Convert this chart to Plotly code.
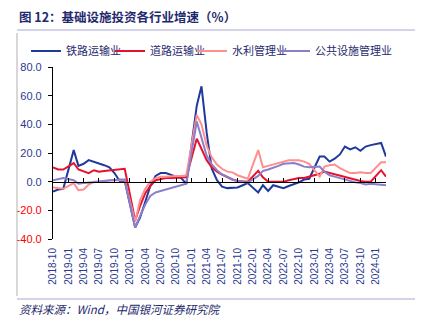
import plotly.graph_objects as go

# ---- data ----
months = [
    "2018-10", "2018-11", "2018-12",
    "2019-02", "2019-03", "2019-04", "2019-05", "2019-06", "2019-07", "2019-08", "2019-09", "2019-10", "2019-11", "2019-12",
    "2020-02", "2020-03", "2020-04", "2020-05", "2020-06", "2020-07", "2020-08", "2020-09", "2020-10", "2020-11", "2020-12",
    "2021-02", "2021-03", "2021-04", "2021-05", "2021-06", "2021-07", "2021-08", "2021-09", "2021-10", "2021-11", "2021-12",
    "2022-02", "2022-03", "2022-04", "2022-05", "2022-06", "2022-07", "2022-08", "2022-09", "2022-10", "2022-11", "2022-12",
    "2023-02", "2023-03", "2023-04", "2023-05", "2023-06", "2023-07", "2023-08", "2023-09", "2023-10", "2023-11", "2023-12",
    "2024-02", "2024-03",
]

railway = [
    -7, -5.5, -5,
    22, 11, 12.5, 15, 14, 13, 11.5, 10, 6, 0.5, 0.5,
    -32, -25, -14, -3, 4, 6, 6, 4.5, 3.5, 2.5, -1.5,
    53, 66.5, 34, 9, 1, -3.5, -4.5, -4.5, -4, -2.5, -1,
    -7.5, -2.5, -6.5, -2.5, -3.5, -4.5, -3, -2, -0.5, 1.5, 2,
    17.5, 17.5, 14, 16, 19, 24.5, 22.5, 24, 21.5, 24.5, 25.5,
    27, 17.5,
]

road = [
    10, 8.5, 8.5,
    13, 8.5, 7, 6, 8, 7, 7.5, 8, 8, 8.5, 9,
    -27, -17, -8, -3, 1, 2, 2.5, 2.5, 2.5, 2.5, 3,
    30, 23, 15, 10, 7, 5, 3, 1.5, 0.5, 0, 0,
    7.5, 3, 0, 0, 0, 0, 1, 2, 2.5, 2.5, 3.5,
    5.5, 7, 6, 5, 4, 3, 2, 1, 0.5, 0, 0,
    8, 3.5,
]

water = [
    -4, -4.5, -5,
    -1, -6, -5.5, -2, 0, 0.5, 0.5, 1, 1, 1, 1,
    -28, -13, -5, 0, 2.5, 3.5, 3.5, 4, 4, 4, 4.5,
    46.5, 40, 25, 17, 12, 9, 7, 6.5, 4.5, 3, 2,
    22, 10, 11, 12, 13, 14, 15, 15, 15, 14, 12.5,
    3.5, 10.5, 11.5, 12, 9.5, 7.5, 6, 6, 6.5, 6, 6,
    13.5, 13.5,
]

public = [
    1, 1.5, 2.5,
    1, -1.5, -1, -0.5, 0, 0, 0.5, 1, 1, 1.5, 1.5,
    -32, -24, -16, -10, -7.5, -6.5, -5.5, -4.5, -3.5, -2.5, -1.5,
    42, 30, 18, 12, 8, 5, 3, 1.5, 0.5, 0, -0.5,
    4, 7.5, 8.5, 9.5, 11, 12.5, 13, 13, 12, 10.5, 10,
    10.5, 7, 4.5, 3.5, 2.5, 1, 0, -0.5, -1, -2, -1.5,
    -2, -2.5,
]

series_names = ["铁路运输业", "道路运输业", "水利管理业", "公共设施管理业"]
series_colors = ["#1F3A9C", "#E8112D", "#FF8F8F", "#8C7EC8"]

x_tick_labels = [
    "2018-10", "2019-01", "2019-04", "2019-07", "2019-10", "2020-01", "2020-04",
    "2020-07", "2020-10", "2021-01", "2021-04", "2021-07", "2021-10", "2022-01",
    "2022-04", "2022-07", "2022-10", "2023-01", "2023-04", "2023-07", "2023-10", "2024-01",
]
y_tick_values = [-40, -20, 0, 20, 40, 60, 80]

# ---- figure ----
W, H = 422, 329
L, R, T, B = 53, 386, 67, 239  # plot area in pixels
pw, ph = R - L, B - T

def px(p):
    return (p - L) / pw

def py(q):
    return (B - q) / ph

dates = [m + "-01" for m in months]
tickdates = [m + "-01" for m in x_tick_labels]

navy = "#1F2A6E"
legend_ids = ["legend", "legend2", "legend3", "legend4"]
legend_text_x = [66, 150, 232, 315]  # where each legend label starts (px)

fig = go.Figure()
for name, vals, col, lg in zip(series_names, [railway, road, water, public], series_colors, legend_ids):
    fig.add_trace(go.Scatter(x=dates, y=vals, mode="lines", name=name, legend=lg,
                             line=dict(color=col, width=2)))

ytext = []
for v in y_tick_values:
    c = "#FF0000" if v < 0 else "#2B3990"
    ytext.append(f"<span style='color:{c}'>{v:.1f}</span>")

legend_common = dict(orientation="h", xref="container", yref="container",
                     xanchor="left", yanchor="middle", y=1 - 51 / H,
                     font=dict(family="Noto Sans CJK SC", size=11, color=navy),
                     itemwidth=30, bgcolor="rgba(0,0,0,0)", borderwidth=0)
legends = {}
for lg, tx in zip(legend_ids, legend_text_x):
    legends[lg] = dict(legend_common, x=(tx - 40) / W)

fig.update_layout(
    width=W, height=H, autosize=False,
    margin=dict(l=L, r=W - R, t=T, b=H - B, pad=0, autoexpand=False),
    paper_bgcolor="white", plot_bgcolor="white",
    font=dict(family="Liberation Sans, Arial, sans-serif", size=11, color=navy),
    showlegend=True,
    **legends,
    xaxis=dict(type="date", range=[dates[0], dates[-1]],
               tickvals=tickdates, ticktext=x_tick_labels, tickangle=-90,
               tickfont=dict(size=10, color="#2B3990", family="Liberation Sans"),
               showgrid=False, zeroline=False, showline=False, ticks="",
               ticklabelstandoff=6),
    xaxis2=dict(type="date", matches="x", overlaying="x", anchor="free",
                position=40 / 120, side="bottom",
                tickvals=tickdates, showticklabels=False,
                ticks="inside", ticklen=4, tickcolor="black", tickwidth=1,
                showline=True, linecolor="black", linewidth=1.2, showgrid=False),
    yaxis=dict(range=[-40, 80], tickvals=y_tick_values, ticktext=ytext,
               showgrid=False, zeroline=False, showline=True, linecolor="black",
               linewidth=1.2, ticks="outside", ticklen=4, tickcolor="black",
               tickfont=dict(size=11, family="Liberation Sans"),
               ticklabelstandoff=4),
)

# invisible trace on xaxis2 so the zero axis renders
fig.add_trace(go.Scatter(x=[dates[0]], y=[0], xaxis="x2", mode="markers",
                         marker=dict(opacity=0), showlegend=False, hoverinfo="skip"))

# decorative frame lines
rule = "#A7A7D6"
fig.add_shape(type="line", xref="paper", yref="paper", x0=px(17), x1=px(415),
              y0=py(30), y1=py(30), line=dict(color=rule, width=1.2))
fig.add_shape(type="line", xref="paper", yref="paper", x0=px(17), x1=px(415),
              y0=py(299), y1=py(299), line=dict(color=rule, width=1.2))
fig.add_shape(type="line", xref="paper", yref="paper", x0=px(17), x1=px(17),
              y0=py(33), y1=py(296), line=dict(color="#B0B0B0", width=1))

fig.add_annotation(text="<b>图 12：基础设施投资各行业增速（%）</b>", xref="paper", yref="paper",
                   x=px(17), y=py(17), xanchor="left", yanchor="middle", showarrow=False,
                   font=dict(family="Noto Sans CJK SC", size=12.5, color=navy))
fig.add_annotation(text="<i>资料来源：Wind，中国银河证券研究院</i>", xref="paper", yref="paper",
                   x=px(17), y=py(309), xanchor="left", yanchor="middle", showarrow=False,
                   font=dict(family="Noto Sans CJK SC", size=11.5, color=navy))

fig.write_html("out.html")
